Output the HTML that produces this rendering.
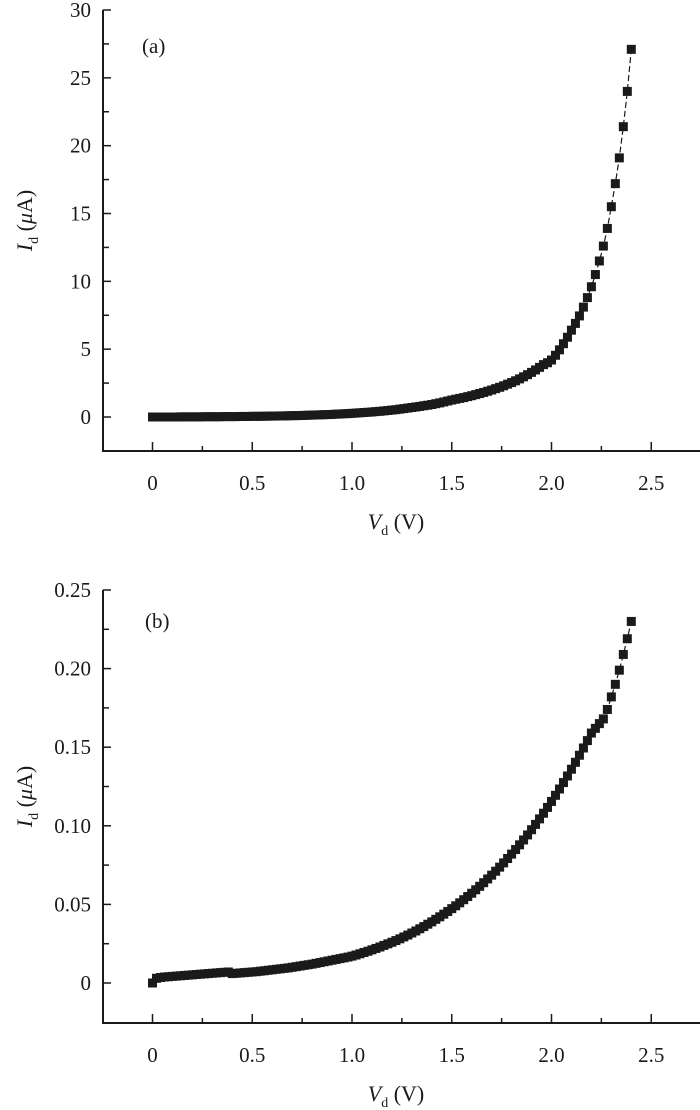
<!DOCTYPE html>
<html><head><meta charset="utf-8"><style>
body{margin:0;background:#fff;}
svg{display:block;font-family:"Liberation Serif",serif;}
text{fill:#1a1a1a;}
</style></head><body>
<svg id="fig" width="700" height="1110" viewBox="0 0 700 1110"></svg>
<script>
const voltages = [];
for (let i = 0; i <= 120; i++) voltages.push(+(i * 0.02).toFixed(2));
const currentA = [
0,0,0,0,0, 0,0,0.01,0.01,0.01, 0.01,0.01,0.01,0.02,0.02, 0.02,0.02,0.02,0.03,0.03,
0.03,0.03,0.04,0.04,0.04, 0.05,0.05,0.05,0.06,0.06, 0.07,0.07,0.08,0.08,0.09, 0.10,0.10,0.11,0.12,0.13,
0.14,0.15,0.16,0.17,0.18, 0.19,0.21,0.22,0.24,0.25, 0.27,0.29,0.31,0.33,0.35, 0.37,0.40,0.42,0.45,0.48,
0.51,0.54,0.58,0.62,0.66, 0.70,0.74,0.78,0.83,0.87, 0.92,0.98,1.04,1.11,1.18, 1.25,1.31,1.37,1.43,1.50,
1.57,1.65,1.73,1.81,1.90, 1.99,2.09,2.19,2.30,2.42, 2.54,2.67,2.81,2.96,3.12, 3.29,3.47,3.66,3.86,4.00,
4.20,4.55,4.95,5.40,5.88, 6.40,6.90,7.45,8.10,8.80, 9.6,10.5,11.5,12.6,13.9, 15.5,17.2,19.1,21.4,24.0, 27.1];
const currentB = [
0.000,0.003,0.0035,0.0038,0.004, 0.0042,0.0044,0.0046,0.0048,0.005, 0.0052,0.0054,0.0056,0.0058,0.006, 0.0062,0.0064,0.0066,0.0068,0.007,
0.0060,0.0062,0.0064,0.0066,0.0068, 0.0070,0.0072,0.0075,0.0078,0.0081, 0.0084,0.0087,0.0090,0.0093,0.0096, 0.0100,0.0104,0.0108,0.0112,0.0116,
0.0120,0.0125,0.0130,0.0135,0.0140, 0.0145,0.0150,0.0155,0.0160,0.0165, 0.0171,0.0178,0.0186,0.0194,0.0202, 0.0211,0.0220,0.0229,0.0239,0.0249,
0.0259,0.0270,0.0281,0.0293,0.0305, 0.0318,0.0331,0.0345,0.0359,0.0374, 0.0389,0.0405,0.0421,0.0438,0.0455, 0.0473,0.0491,0.0510,0.0530,0.0550,
0.0571,0.0593,0.0615,0.0638,0.0662, 0.0686,0.0711,0.0737,0.0764,0.0792, 0.0820,0.0849,0.0879,0.0910,0.0942, 0.0975,0.1009,0.1044,0.1080,0.1117,
0.1155,0.1194,0.1234,0.1275,0.1317, 0.1360,0.1404,0.1449,0.1495,0.1542, 0.159,0.162,0.165,0.168,0.174, 0.182,0.190,0.199,0.209,0.219, 0.230];
const xTickLabels = ["0","0.5","1.0","1.5","2.0","2.5"];
const yTickLabelsA = ["0","5","10","15","20","25","30"];
const yTickLabelsB = ["0","0.05","0.10","0.15","0.20","0.25"];

const NS = "http://www.w3.org/2000/svg";
const svg = document.getElementById("fig");
function mk(tag, attrs, parent, txt) {
  const e = document.createElementNS(NS, tag);
  for (const k in attrs) e.setAttribute(k, attrs[k]);
  if (txt !== undefined) e.textContent = txt;
  (parent || svg).appendChild(e);
  return e;
}
function panel(cfg) {
  const g = mk("g", {});
  
  
  const xs = v => 152.5 + v * 199.5;
  const ys = v => cfg.y0 + (v / cfg.ymax) * (cfg.yTop - cfg.y0);
  // axes
  const ax = mk("path", {d:`M103 ${cfg.yTop} V${cfg.yBot} H700`, stroke:"#1a1a1a", "stroke-width":2, fill:"none"}, g);
  
  
  // x ticks
  for (let i = 0; i <= 10; i++) {
    const v = i * 0.25, x = xs(v), major = i % 2 === 0;
    mk("line", {x1:x, x2:x, y1:cfg.yBot, y2:cfg.yBot - (major ? 9 : 5), stroke:"#1a1a1a", "stroke-width":1.5}, g);
  }
  xTickLabels.forEach((lab, i) => {
    const t = mk("text", {x:xs(i * 0.5), y:cfg.yBot + 39, "font-size":21, "text-anchor":"middle"}, g, lab);
    
    
  });
  // y ticks
  const step = cfg.ymax / (cfg.yLabels.length - 1);
  for (let i = -1; i <= (cfg.yLabels.length - 1) * 2; i++) {
    const v = i * step / 2, y = ys(v);
    if (y > cfg.yBot - 1) continue;
    mk("line", {x1:103, x2:103 + (i % 2 === 0 ? 8 : 6), y1:y, y2:y, stroke:"#1a1a1a", "stroke-width":1.5}, g);
  }
  cfg.yLabels.forEach((lab, i) => {
    const t = mk("text", {x:91, y:ys(i * step) + 7, "font-size":21, "text-anchor":"end"}, g, lab);
    
    
  });
  // titles
  const xt = mk("text", {x:396, y:cfg.yBot + 78, "font-size":22, "text-anchor":"middle"}, g);
  
  
  mk("tspan", {"font-style":"italic"}, xt, "V");
  mk("tspan", {"font-size":14, dy:6}, xt, "d");
  mk("tspan", {dy:-6}, xt, " (V)");
  const cy = (cfg.yTop + cfg.yBot) / 2 - 10;
  const yt = mk("text", {x:0, y:0, "font-size":22, "text-anchor":"middle", transform:`translate(32 ${cy}) rotate(-90)`}, g);
  
  
  mk("tspan", {"font-style":"italic"}, yt, "I");
  mk("tspan", {"font-size":14, dy:6}, yt, "d");
  mk("tspan", {dy:-6}, yt, " (");
  mk("tspan", {"font-style":"italic"}, yt, "μ");
  mk("tspan", {}, yt, "A)");
  const pl = mk("text", {x:cfg.labX, y:cfg.labY, "font-size":21}, g, cfg.label);
  
  
  // line + markers
  const pts = voltages.map((v, i) => `${xs(v).toFixed(1)},${ys(cfg.data[i]).toFixed(1)}`).join(" ");
  const ln = mk("polyline", {points:pts, fill:"none", stroke:"#1a1a1a", "stroke-width":1.2, "stroke-dasharray":"6 3"}, g);
  
  
  voltages.forEach((v, i) => {
    const r = mk("rect", {x:xs(v) - 4.5, y:ys(cfg.data[i]) - 4.5, width:9, height:9, fill:"#1a1a1a"}, g);
    
    
  });
}
panel({name:"chart-a", data:currentA, yLabels:yTickLabelsA, ymax:30, y0:417, yTop:10, yBot:451, label:"(a)", labX:142, labY:53});
panel({name:"chart-b", data:currentB, yLabels:yTickLabelsB, ymax:0.25, y0:983, yTop:590, yBot:1023, label:"(b)", labX:145, labY:628});
</script>
</body></html>
